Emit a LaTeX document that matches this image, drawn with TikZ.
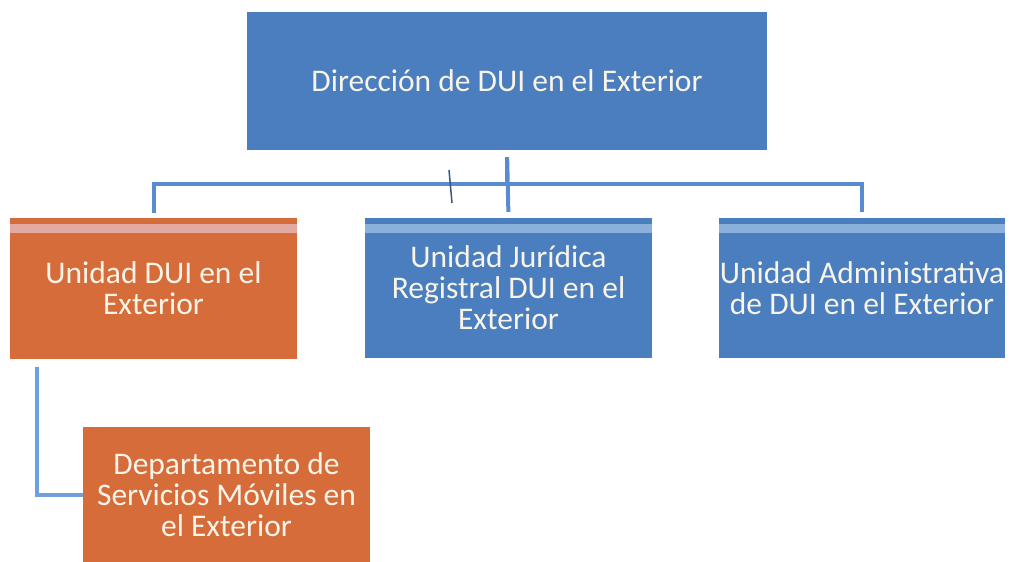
\documentclass[tikz,border=0pt]{standalone}
\usepackage{fontspec}
\setmainfont{Carlito}
\definecolor{boxblue}{RGB}{74,126,190}
\definecolor{boxorange}{RGB}{214,108,58}
\definecolor{stripeblue}{RGB}{140,176,220}
\definecolor{stripeorange}{RGB}{226,170,160}
\definecolor{linkblue}{RGB}{88,140,208}
\definecolor{linklight}{RGB}{110,160,222}
\definecolor{txt}{RGB}{248,244,232}
\begin{document}
\begin{tikzpicture}[x=1pt,y=-1pt,
  box/.style={rectangle, inner sep=0pt, align=center, text=txt,
    font=\fontsize{31.5}{31}\selectfont},
  bluebox/.style={box, fill=boxblue},
  orangebox/.style={box, fill=boxorange},
  conn/.style={draw=linkblue, line width=4pt},
  connlight/.style={draw=linklight, line width=4pt}]
\useasboundingbox[fill=white] (0,0) rectangle (1010,562);

\node[bluebox, minimum width=520pt, minimum height=138pt] (top) at (507,81) {Dirección de DUI en el Exterior};
\node[orangebox, minimum width=287pt, minimum height=141pt] (left) at (153.5,288.5) {Unidad DUI en el\\Exterior};
\node[bluebox, minimum width=287pt, minimum height=140pt] (mid) at (508.5,288) {Unidad Jurídica\\Registral DUI en el\\Exterior};
\node[bluebox, minimum width=286pt, minimum height=140pt] (right) at (862,288) {Unidad Administrativa\\de DUI en el Exterior};
\node[orangebox, minimum width=287pt, minimum height=135pt, anchor=north] (dept) at (226.5,427) {Departamento de\\Servicios Móviles en\\el Exterior};

% light stripes at the top of the unit boxes
\foreach \n/\c in {left/stripeorange, mid/stripeblue, right/stripeblue}{
  \fill[\c] ([yshift=-6pt]\n.north west) rectangle ([yshift=-15pt]\n.north east);
}

\coordinate (bar) at (0,184);
\draw[conn, shorten <=7pt, shorten >=5pt] (top.south) -- (top.south |- bar) -| (left.north);
\draw[conn, shorten <=7pt, shorten >=6pt] (top.south) -- (mid.north);
\draw[conn, shorten <=7pt, shorten >=6pt] (top.south) -- (top.south |- bar) -| (right.north);

\coordinate (tickA) at (449,170);
\coordinate (tickB) at (452,203);
\draw[line width=1.5pt, draw=boxblue!70!black] (tickA) -- (tickB);

\draw[connlight] ([xshift=27pt,yshift=-8pt]left.south west) |- (dept.west);
\end{tikzpicture}
\end{document}
